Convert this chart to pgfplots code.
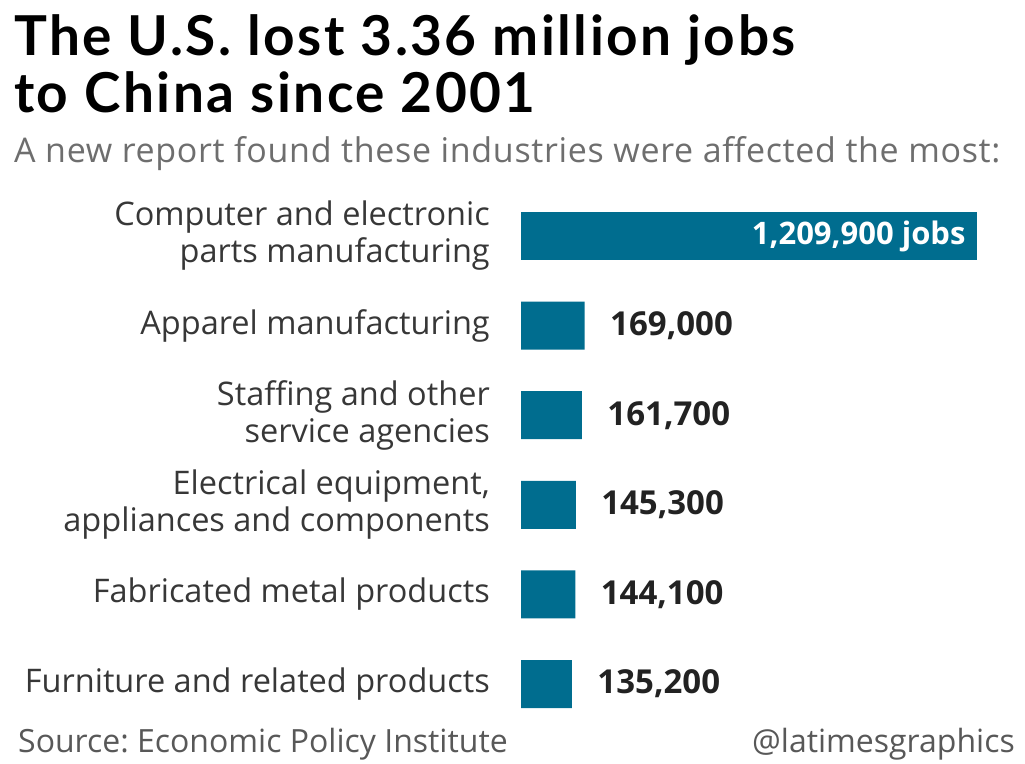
\documentclass[border=0pt]{standalone}
\usepackage{pgfplots}
\pgfplotsset{compat=1.18}
\usepackage{fontspec}
\setmainfont{Open Sans}
\newfontfamily\titlefont[LetterSpace=4.5]{Lato}
\newfontfamily\subfont[LetterSpace=2]{Open Sans}
\definecolor{barc}{RGB}{0,109,143}
\definecolor{subc}{RGB}{110,110,110}
\definecolor{labc}{RGB}{55,55,55}
\definecolor{valc}{RGB}{34,34,34}
\frenchspacing
\pgfplotstableread{
y x label
1 169000 169,000
2 161700 161,700
3 145300 145,300
4 144100 144,100
5 135200 135,200
}\rest
\begin{document}
\frenchspacing
\begin{tikzpicture}
\path (0pt,0pt) rectangle (1025pt,763pt);
\node[anchor=base west, inner sep=0, font=\titlefont\fontsize{55}{55}\selectfont\bfseries] at (14pt,707pt) {The U.S. lost 3.36 million jobs};
\node[anchor=base west, inner sep=0, font=\titlefont\fontsize{55}{55}\selectfont\bfseries] at (14pt,650pt) {to China since 2001};
\node[anchor=base west, inner sep=0, font=\subfont\fontsize{34}{34}\selectfont, text=subc] at (14pt,600pt) {A new report found these industries were affected the most:};
\node[anchor=base west, inner sep=0, font=\fontsize{32}{32}\selectfont, text=subc!80!black] at (18pt,11pt) {Source: Economic Policy Institute};
\node[anchor=base east, inner sep=0, font=\fontsize{32}{32}\selectfont, text=subc!80!black] at (1015pt,11pt) {@latimesgraphics};
\begin{axis}[at={(521pt,34.2pt)}, anchor=south west, scale only axis,
  width=456pt, height=537.6pt,
  xmin=0, xmax=1209900, ymin=-0.5, ymax=5.5, y dir=reverse,
  xbar, bar width=48pt,
  axis line style={draw=none}, xtick=\empty,
  ytick={0,1,2,3,4,5}, major tick length=0pt,
  yticklabels={{Computer and electronic\\parts manufacturing},{Apparel manufacturing},{Staffing and other\\service agencies},{Electrical equipment,\\appliances and components},{Fabricated metal products},{Furniture and related products}},
  yticklabel style={align=right, anchor=east, inner sep=0pt, xshift=-31pt, text=labc, font=\fontsize{32.5}{37}\selectfont},
  clip=false]
\addplot[fill=barc, draw=none, bar shift=0pt, nodes near coords={1,209,900 jobs},
  nodes near coords style={anchor=east, text=white, font=\fontsize{31}{31}\selectfont\bfseries, xshift=-8pt}] coordinates {(1209900,0)};
\addplot[fill=barc, draw=none, bar shift=0pt, point meta=explicit symbolic, nodes near coords,
  nodes near coords style={anchor=west, text=valc, font=\fontsize{33}{33}\selectfont\bfseries, xshift=22pt}] table[x=x, y=y, meta=label] {\rest};
\end{axis}
\end{tikzpicture}
\end{document}
